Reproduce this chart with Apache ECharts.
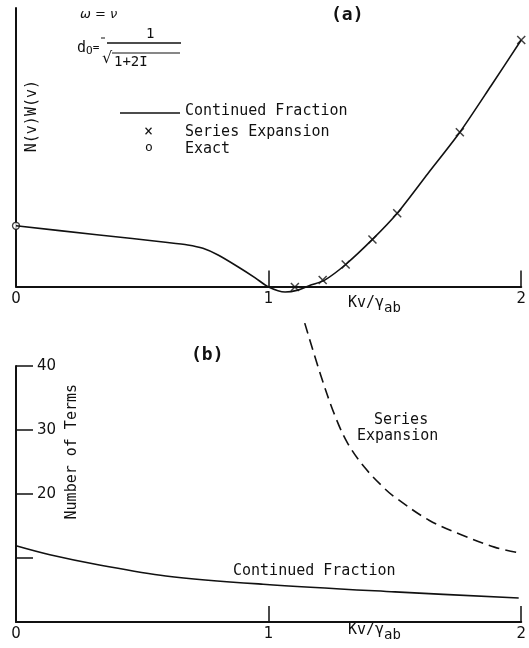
<!DOCTYPE html>
<html>
<head>
<meta charset="utf-8">
<script src="https://cdn.jsdelivr.net/npm/echarts@6/dist/echarts.min.js"></script>
<style>
  html, body { margin: 0; background: #fff; }
  #main { width: 529px; height: 648px; }
</style>
</head>
<body>
<div id="main"></div>
<script>
// panel (a): N(v)W(v) vs Kv/γab
const contFracA = [[0, 2.18], [0.32, 1.86], [0.60, 1.58], [0.68, 1.49], [0.74, 1.37], [0.80, 1.13], [0.88, 0.70],
  [0.947, 0.31], [1.0, -0.02], [1.065, -0.2], [1.116, -0.13], [1.167, 0.05], [1.222, 0.23],
  [1.305, 0.79], [1.411, 1.69], [1.509, 2.63], [1.63, 4.05], [1.757, 5.54], [1.88, 7.2], [2.0, 8.85]]
const seriesExpA = [[1.104, -0.02], [1.214, 0.23], [1.305, 0.79], [1.411, 1.69], [1.509, 2.63], [1.757, 5.54], [2.0, 8.85]]
const exactA = [[0, 2.18]]

// panel (b): number of terms
const contFracB = [[0, 11.9], [0.134, 10.5], [0.33, 8.9], [0.593, 7.2], [0.978, 5.9], [1.5, 4.7], [1.99, 3.75]]
const seriesExpB = [[1.143, 46.7], [1.206, 38.6], [1.261, 32.4], [1.312, 28.0], [1.379, 24.2], [1.458, 20.9],
  [1.5, 19.5], [1.635, 15.9], [1.765, 13.6], [1.894, 11.7], [1.98, 10.9]]
const yLabelsB = [20, 30, 40]
const xLabels = [0, 1, 2]

const FONT = 'DejaVu Sans Mono'
const NUMFONT = 'DejaVu Sans'
const INK = '#111'
const chart = echarts.init(document.getElementById('main'))

const xAxisBase = {
  type: 'value', min: 0, max: 2, interval: 1,
  axisLine: { lineStyle: { color: INK, width: 2 } },
  axisTick: { inside: true, length: 16, lineStyle: { color: INK, width: 1.5 } },
  axisLabel: {
    color: INK, fontSize: 15, fontFamily: NUMFONT, margin: 5,
    formatter: v => xLabels.includes(v) ? String(v) : ''
  },
  splitLine: { show: false }
}
const cross = 'path://M0,0L10,10M10,0L0,10'
const kvName = (y) => ({
  type: 'text', left: 348, top: y,
  style: {
    text: '{n|Kv/γ}{s|ab}', fill: INK,
    rich: {
      n: { fontSize: 15, fontFamily: FONT, fill: INK },
      s: { fontSize: 14, fontFamily: FONT, fill: INK, padding: [10, 0, 0, 0] }
    }
  }
})
const txt = (x, y, text, size, extra) => ({
  type: 'text', left: x, top: y,
  style: Object.assign({ text: text, fill: INK, fontSize: size, fontFamily: FONT }, extra || {})
})
const hline = (x1, x2, y, w) => ({
  type: 'line', shape: { x1: x1, y1: y, x2: x2, y2: y },
  style: { stroke: INK, lineWidth: w || 1.2 }
})
const vtext = (x, y, text) => ({
  type: 'text', left: x, top: y, rotation: Math.PI / 2, originX: 0, originY: 0,
  style: { text: text, fill: INK, fontSize: 15, fontFamily: FONT }
})

chart.setOption({
  backgroundColor: '#fff',
  animation: false,
  grid: [
    { left: 16, right: 4, top: 8, height: 278.5 },
    { left: 16, right: 4, top: 366, height: 256 }
  ],
  xAxis: [
    Object.assign({ gridIndex: 0 }, xAxisBase),
    Object.assign({ gridIndex: 1 }, xAxisBase)
  ],
  yAxis: [
    {
      gridIndex: 0, type: 'value', min: 0, max: 10,
      axisLine: { show: true, lineStyle: { color: INK, width: 2 } },
      axisTick: { show: false }, axisLabel: { show: false }, splitLine: { show: false }
    },
    {
      gridIndex: 1, type: 'value', min: 0, max: 40, interval: 10,
      axisLine: { show: true, lineStyle: { color: INK, width: 2 } },
      axisTick: { inside: true, length: 17, lineStyle: { color: INK, width: 1.5 } },
      axisLabel: {
        inside: true, margin: 21, color: INK, fontSize: 15, fontFamily: NUMFONT,
        formatter: v => yLabelsB.includes(v) ? String(v) : ''
      },
      splitLine: { show: false }
    }
  ],
  series: [
    {
      name: 'Continued Fraction', type: 'line', xAxisIndex: 0, yAxisIndex: 0,
      data: contFracA, smooth: 0.25, symbol: 'none', clip: false,
      lineStyle: { color: INK, width: 1.6 }
    },
    {
      name: 'Series Expansion', type: 'scatter', xAxisIndex: 0, yAxisIndex: 0,
      data: seriesExpA, symbol: cross, symbolSize: 8, clip: false,
      itemStyle: { color: 'none', borderColor: INK, borderWidth: 1.5 }
    },
    {
      name: 'Exact', type: 'scatter', xAxisIndex: 0, yAxisIndex: 0,
      data: exactA, symbol: 'circle', symbolSize: 7, clip: false,
      itemStyle: { color: '#fff', borderColor: INK, borderWidth: 1.3 }
    },
    {
      name: 'Continued Fraction (terms)', type: 'line', xAxisIndex: 1, yAxisIndex: 1,
      data: contFracB, smooth: 0.35, symbol: 'none', clip: false,
      lineStyle: { color: INK, width: 1.6 }
    },
    {
      name: 'Series Expansion (terms)', type: 'line', xAxisIndex: 1, yAxisIndex: 1,
      data: seriesExpB, smooth: 0.35, symbol: 'none', clip: false,
      lineStyle: { color: INK, width: 1.6, type: [11, 6] }
    }
  ],
  graphic: [
    // panel (a) labels
    txt(331, 6, '(a)', 18, { fontWeight: 'bold' }),
    txt(80, 8, 'ω = ν', 13, { fontStyle: 'italic', fontFamily: 'DejaVu Sans' }),
    txt(77, 41, '{d|d}{o|O}{e|=}', 12, {
      rich: {
        d: { fontSize: 15, fontFamily: FONT, fill: INK },
        o: { fontSize: 11, fontFamily: FONT, fill: INK, padding: [6, 0, 0, 0] },
        e: { fontSize: 11, fontFamily: FONT, fill: INK }
      }
    }),
    hline(101, 105, 38, 1),
    txt(146, 27, '1', 14),
    hline(107, 181, 43, 1.4),
    txt(102, 51, '√', 16, { fontFamily: 'DejaVu Sans' }),
    hline(112, 180, 53, 1.2),
    txt(114, 55, '1+2I', 14),
    vtext(25, 80, 'N(v)W(v)'),
    // legend
    hline(120, 180, 113, 1.6),
    txt(185, 104, 'Continued Fraction', 15),
    txt(144, 125, '×', 15),
    txt(185, 125, 'Series Expansion', 15),
    txt(145, 141, 'o', 13),
    txt(185, 142, 'Exact', 15),
    kvName(296),
    // panel (b) labels
    txt(191, 346, '(b)', 18, { fontWeight: 'bold' }),
    vtext(65, 384, 'Number of Terms'),
    txt(374, 413, 'Series', 15),
    txt(357, 429, 'Expansion', 15),
    txt(233, 564, 'Continued Fraction', 15),
    kvName(623)
  ]
})
</script>
</body>
</html>
